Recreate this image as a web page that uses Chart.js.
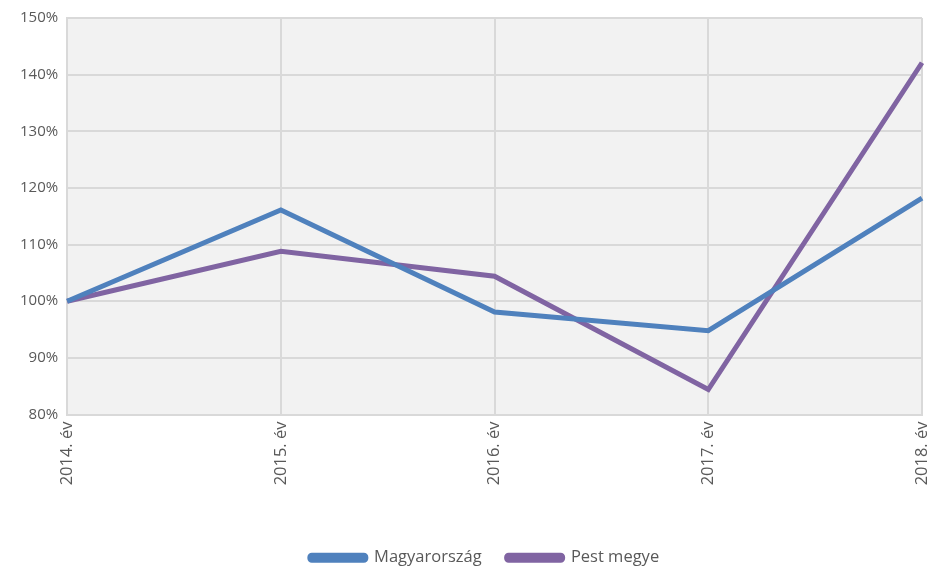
<!DOCTYPE html>
<html>
<head>
<meta charset="utf-8">
<script src="https://cdn.jsdelivr.net/npm/chart.js@4/dist/chart.umd.min.js"></script>
<style>
  html, body { margin: 0; padding: 0; background: #fff; }
  #wrap { width: 929px; height: 566px; position: relative; }
</style>
</head>
<body>
<div id="wrap"><canvas id="chart"></canvas></div>
<script>
const years = ['2014. év', '2015. év', '2016. év', '2017. év', '2018. év'];
const magyarorszag = [100, 116.1, 98.1, 94.8, 118.2];
const pestMegye = [100, 108.8, 104.4, 84.4, 142.1];

// plot background behind the grid
const plotBg = {
  id: 'plotBg',
  beforeDraw(chart) {
    const { ctx, chartArea: a } = chart;
    ctx.save();
    ctx.fillStyle = '#f2f2f2';
    ctx.fillRect(a.left, a.top, a.right - a.left, a.bottom - a.top);
    ctx.restore();
  }
};

// nudge the legend a bit right, like the original
const legendShift = {
  id: 'legendShift',
  afterLayout(chart) {
    if (chart.legend) chart.legend.left += 36;
  }
};

const yFont = { family: '"Open Sans", sans-serif', size: 15 };
const font = { family: '"Open Sans", sans-serif', size: 16.5 };

new Chart(document.getElementById('chart'), {
  type: 'line',
  data: {
    labels: years,
    datasets: [
      { label: 'Magyarország', data: magyarorszag, borderColor: '#4f81bd', backgroundColor: '#4f81bd', borderWidth: 5, pointRadius: 0, tension: 0 },
      { label: 'Pest megye', data: pestMegye, borderColor: '#8064a2', backgroundColor: '#8064a2', borderWidth: 5, pointRadius: 0, tension: 0 }
    ]
  },
  options: {
    responsive: true,
    maintainAspectRatio: false,
    animation: false,
    layout: { padding: { top: 10, right: 7, left: 11, bottom: -10 } },
    scales: {
      x: {
        offset: false,
        grid: { color: '#d9d9d9', lineWidth: 2, drawTicks: false },
        border: { color: '#d9d9d9', width: 2 },
        ticks: { color: '#595959', font, minRotation: 90, maxRotation: 90, padding: 7 },
        afterFit: s => { s.height = 110; s.paddingLeft = 0; s.paddingRight = 0; }
      },
      y: {
        min: 80,
        max: 150,
        grid: { color: '#d9d9d9', lineWidth: 2, drawTicks: false },
        border: { color: '#d9d9d9', width: 2 },
        ticks: { stepSize: 10, color: '#595959', font: yFont, padding: 9, callback: v => v + '%' }
      }
    },
    plugins: {
      legend: {
        position: 'bottom',
        labels: { color: '#595959', font, boxWidth: 56, boxHeight: 5, padding: 25, useBorderRadius: true, borderRadius: 2 }
      },
      tooltip: { enabled: false }
    }
  },
  plugins: [plotBg, legendShift]
});
</script>
</body>
</html>
